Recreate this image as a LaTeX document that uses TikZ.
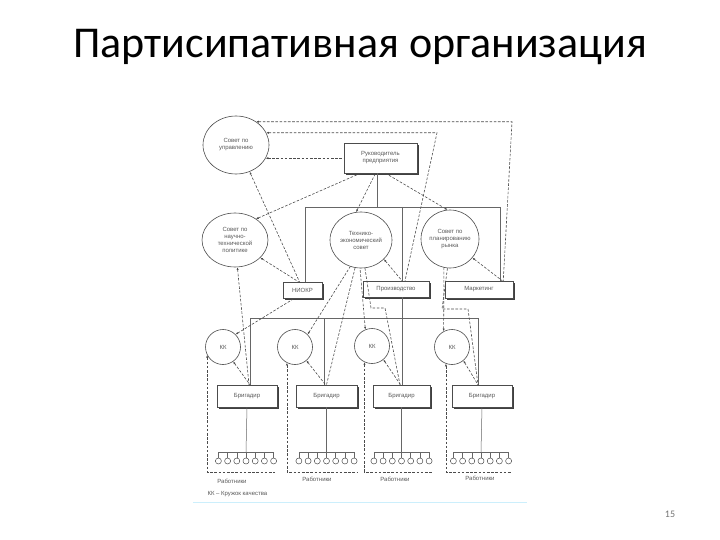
\documentclass[tikz,border=0pt]{standalone}
\usepackage{fontspec}
\setmainfont{Liberation Sans}
\newfontfamily\titlefont{Carlito}
\usetikzlibrary{arrows.meta,shapes.geometric,shadows}
\begin{document}
\begin{tikzpicture}[x=1pt,y=-1pt,
  dsh/.style={draw=black!70, line width=0.6pt, dash pattern=on 2.6pt off 1.6pt},
  sol/.style={draw=black!60, line width=0.5pt},
  arr/.style={<-, >={Latex[length=2.6pt,width=2.2pt]}},
  txt/.style={font=\fontsize{6}{7}\selectfont, text=black!65, align=center},
  ell/.style={ellipse, draw=black!70, line width=0.6pt, fill=white, inner xsep=-8pt, inner ysep=-2pt, txt},
  bx/.style={rectangle, draw=black!70, fill=white, line width=0.5pt, inner sep=1pt, txt,
     drop shadow={shadow xshift=1.6pt, shadow yshift=-1.6pt, fill=black!75, opacity=1}},
  kk/.style={circle, draw=black!70, line width=0.6pt, fill=white, minimum size=35pt, inner sep=0pt, txt},
  wk/.style={circle, draw=black!70, line width=0.5pt, minimum size=6pt, inner sep=0pt},
  lbl/.style={txt}
]
\useasboundingbox (0,0) rectangle (720,540);

% title and page number
\node[font=\titlefont\fontsize{44}{52}\selectfont] (title) at (360,47) {Партисипативная организация};
\node[font=\titlefont\fontsize{10}{12}\selectfont, text=black!55] (pg) at (670,514) {15};

% top level
\node[ell, minimum width=66pt, minimum height=58pt] (spu) at (236,145) {Совет по\\управлению};
\node[bx, minimum width=73pt, minimum height=30pt] (ruk) at (380.5,158) {Руководитель\\предприятия};

% councils
\node[ell, minimum width=66pt, minimum height=54pt] (ntp) at (235,240) {Совет по\\научно-\\технической\\политике};
\node[ell, minimum width=62pt, minimum height=56pt] (tes) at (361,240) {Технико-\\экономический\\совет};
\node[ell, minimum width=58pt, minimum height=58pt] (spr) at (450,239) {Совет по\\планированию\\рынка};

% departments
\node[bx, minimum width=39pt, minimum height=16pt] (niokr) at (302.5,290) {НИОКР};
\node[bx, minimum width=66pt, minimum height=16pt] (proizv) at (396,289) {Производство};
\node[bx, minimum width=68pt, minimum height=17pt] (mark) at (479,289.5) {Маркетинг};

% quality circles
\node[kk] (kk1) at (223,347) {КК};
\node[kk] (kk2) at (295,347) {КК};
\node[kk] (kk3) at (372,346) {КК};
\node[kk] (kk4) at (452,347) {КК};

% brigadiers
\node[bx, minimum width=60pt, minimum height=22pt] (br1) at (247,396) {Бригадир};
\node[bx, minimum width=61pt, minimum height=22pt] (br2) at (326.5,396) {Бригадир};
\node[bx, minimum width=57pt, minimum height=22pt] (br3) at (401.5,396) {Бригадир};
\node[bx, minimum width=60pt, minimum height=22pt] (br4) at (482,396) {Бригадир};

% workers
\foreach \g/\cx/\lx/\ly in {1/246/232/481, 2/326.5/317/479, 3/401.5/395/479, 4/481/480/478} {
  \coordinate (t\g) at (\cx,452);
  \foreach \i in {1,...,7} {
    \node[wk] (w\g-\i) at ({\cx+(\i-4)*9.2},461) {};
    \draw[sol] (w\g-\i.north) -- (w\g-\i.north |- t\g);
  }
  \draw[sol] (w\g-1.north |- t\g) -- (w\g-7.north |- t\g);
  \draw[sol] (br\g.south) -- (t\g);
  \node[lbl] (r\g) at (\lx,\ly) {Работники};
}

% enclosures of worker groups
\coordinate (e1) at (275,472);
\coordinate (e2) at (357,472);
\coordinate (e3) at (432,472);
\coordinate (e4) at (512,472);
\draw[dsh,arr] (kk1.207) -- (kk1.207 |- e1) -- (e1);
\draw[dsh,arr] (kk2.243) -- (kk2.243 |- e2) -- (e2);
\draw[dsh,arr] (kk3.245) -- (kk3.245 |- e3) -- (e3);
\draw[dsh,arr] (kk4.250) -- (kk4.250 |- e4) -- (e4);

% upper dashed links
\coordinate (tr1) at (512,122);
\coordinate (tr2) at (437,133);
\draw[dsh,arr] (spu.49) -- (spu.49 -| tr1) -- ([xshift=-10pt]mark.north east);
\draw[dsh,arr] (spu.22) -- (spu.22 -| tr2) -- ([xshift=9pt]proizv.north);
\draw[dsh,arr] (spu.-24) -- (spu.-24 -| ruk.west);
\draw[dsh,arr] (spu.-63) -- ([xshift=-3pt]niokr.north);
\draw[dsh,arr] (ntp.45) -- ([xshift=-20pt]ruk.south);
\draw[dsh,arr] (tes.100) -- ([xshift=-5pt]ruk.south);
\draw[dsh,arr] (spr.95) -- ([xshift=5pt]ruk.south);

% solid structure lines
\coordinate (bl) at (305,207);
\coordinate (bm) at (402,207);
\coordinate (bR) at (500,207);
\draw[sol] (bl) -- (bR);
\draw[sol] ([xshift=-3pt]ruk.south) -- ([xshift=-3pt]ruk.south |- bl);
\draw[sol] (bl) -- (bl |- niokr.north);
\draw[sol] (bm) -- (bm |- proizv.north);
\draw[sol] (bR) -- (bR |- mark.north);

% council to department links
\draw[dsh,arr] (ntp.-35) -- ([xshift=-4pt]niokr.north);
\draw[dsh,arr] (tes.-40) -- ([xshift=6pt]proizv.north);
\draw[dsh,arr] (spr.-40) -- ([xshift=-11pt]mark.north east);

% lower solid structure
\coordinate (lb1) at (250,318);
\coordinate (lb2) at (324,318);
\coordinate (lb3) at (402,318);
\coordinate (lb4) at (478,318);
\draw[sol] (lb1) -- (lb4);
\draw[sol] (lb1) -- (lb1 |- br1.north);
\draw[sol] (lb2) -- (lb2 |- br2.north);
\draw[sol] (lb3 |- proizv.south) -- (lb3 |- br3.north);
\draw[sol] (lb4) -- (lb4 |- br4.north);

% lower dashed links
\draw[dsh,arr] (ntp.-85) -- ([xshift=2pt]br1.north);
\draw[dsh,arr] (kk1.45) -- ([xshift=-8pt]niokr.south);
\draw[dsh,arr] (kk2.45) -- (tes.-112);
\draw[dsh] (tes.-102) -- (br2.north);
\draw[dsh,arr] (kk3.112) -- (tes.-92);
\coordinate (p3a) at (371,308);
\coordinate (p3b) at (385,308);
\draw[dsh] (tes.-82) -- (p3a) -- (p3b) -- ([xshift=-1.5pt]br3.north);
\draw[dsh,arr] (kk4.118) -- (spr.-102);
\coordinate (p4a) at (442,309);
\coordinate (p4b) at (468,309);
\draw[dsh] (spr.-95) -- (p4a) -- (p4b) -- ([xshift=-4pt]br4.north);
\draw[dsh,arr] (kk1.-55) -- ([xshift=3pt]br1.north);
\draw[dsh,arr] (kk2.-50) -- ([xshift=-1pt]br2.north);
\draw[dsh,arr] (kk3.-50) -- ([xshift=-1pt]br3.north);
\draw[dsh,arr] (kk4.-50) -- ([xshift=-4pt]br4.north);

% legend and scan edge
\node[lbl, anchor=west] (leg) at (204,494) {КК – Кружок качества};
\draw[cyan!20, line width=1pt] (193,502) -- (527,502);
\end{tikzpicture}
\end{document}
